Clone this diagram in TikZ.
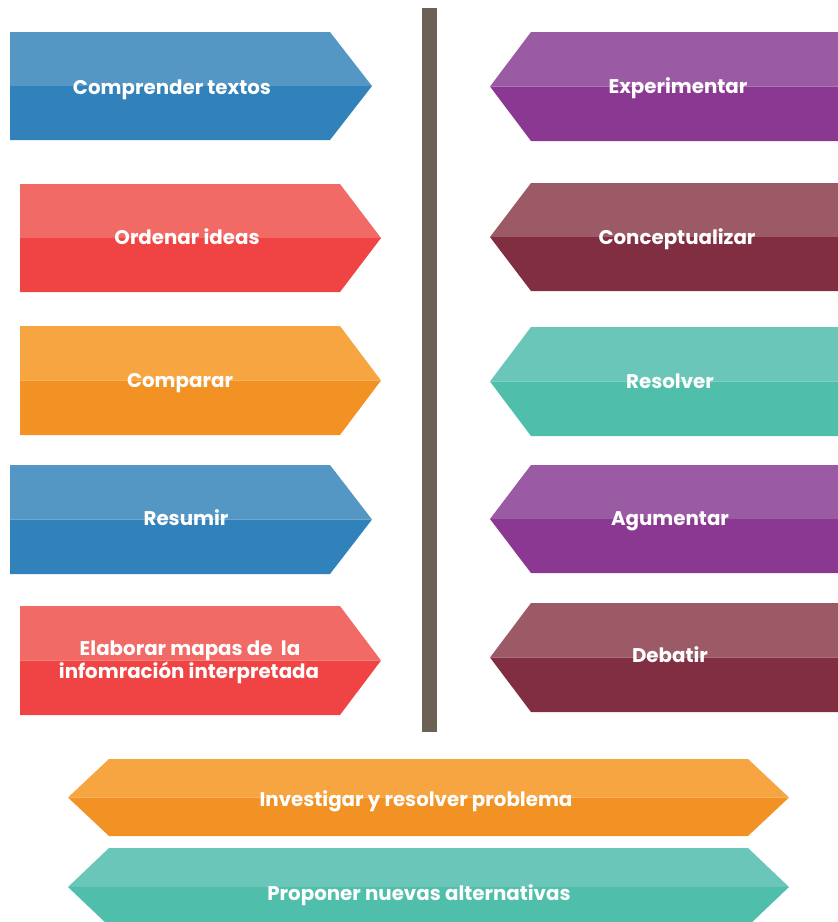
\documentclass[tikz,border=0pt]{standalone}
\usepackage{fontspec}
\setmainfont{Poppins}
\definecolor{blueL}{HTML}{5597C4}
\definecolor{blueD}{HTML}{3182BB}
\definecolor{redL}{HTML}{F26A66}
\definecolor{redD}{HTML}{F04444}
\definecolor{orangeL}{HTML}{F6A541}
\definecolor{orangeD}{HTML}{F39224}
\definecolor{purpL}{HTML}{9B5BA4}
\definecolor{purpD}{HTML}{8A3892}
\definecolor{marL}{HTML}{9C5A66}
\definecolor{marD}{HTML}{812D42}
\definecolor{tealL}{HTML}{69C6B8}
\definecolor{tealD}{HTML}{4FBFAB}
\definecolor{barC}{HTML}{6B6155}
\tikzset{lbl/.style={text=white, font=\bfseries\fontsize{19.8}{23}\selectfont, anchor=base, inner sep=0pt}}
% #1 flat x, #2 shoulder x, #3 tip x, #4 top y, #5 bottom y, #6 light, #7 dark
\newcommand\arrowbox[7]{%
  \pgfmathsetmacro\ymid{(#4+#5)/2}%
  \fill[#6] (#1,#4) -- (#2,#4) -- (#3,\ymid) -- (#1,\ymid) -- cycle;
  \fill[#7] (#1,\ymid) -- (#3,\ymid) -- (#2,#5) -- (#1,#5) -- cycle;
}
% hexagon: #1 left tip, #2 left shoulder, #3 right shoulder, #4 right tip, #5 top, #6 bottom, #7 light, #8 dark
\newcommand\hexbox[8]{%
  \pgfmathsetmacro\ymid{(#5+#6)/2}%
  \fill[#7] (#1,\ymid) -- (#2,#5) -- (#3,#5) -- (#4,\ymid) -- cycle;
  \fill[#8] (#1,\ymid) -- (#4,\ymid) -- (#3,#6) -- (#2,#6) -- cycle;
}
\begin{document}
\begin{tikzpicture}[x=1pt,y=-1pt]
\useasboundingbox (0,0) rectangle (838,922);
\clip (0,0) rectangle (838,922);
\fill[white] (0,0) rectangle (838,922);
% central bar
\fill[barC] (422,8) rectangle (437,732);
% left column
\arrowbox{10}{330}{372}{32}{140}{blueL}{blueD}
\arrowbox{20}{340}{381}{184}{292}{redL}{redD}
\arrowbox{20}{340}{381}{326}{435}{orangeL}{orangeD}
\arrowbox{10}{330}{372}{465}{574}{blueL}{blueD}
\arrowbox{20}{340}{381}{606}{715}{redL}{redD}
% right column
\arrowbox{840}{531}{490}{32}{141}{purpL}{purpD}
\arrowbox{840}{531}{490}{183}{291}{marL}{marD}
\arrowbox{840}{531}{490}{327}{436}{tealL}{tealD}
\arrowbox{840}{531}{490}{465}{573}{purpL}{purpD}
\arrowbox{840}{531}{490}{603}{712}{marL}{marD}
% bottom
\hexbox{68}{109}{748}{789}{759}{836}{orangeL}{orangeD}
\hexbox{68}{109}{748}{789}{848}{926}{tealL}{tealD}
% labels
\node[lbl] (t1) at (172,94) {Comprender textos};
\node[lbl] (t2) at (187,244) {Ordenar ideas};
\node[lbl] (t3) at (180,387) {Comparar};
\node[lbl] (t4) at (186,525) {Resumir};
\node[lbl] (t5a) at (190,655) {Elaborar mapas de~ la};
\node[lbl] (t5b) at (189,678) {infomración interpretada};
\node[lbl] (r1) at (678,93) {Experimentar};
\node[lbl] (r2) at (677,244) {Conceptualizar};
\node[lbl] (r3) at (670,388) {Resolver};
\node[lbl] (r4) at (670,525) {Agumentar};
\node[lbl] (r5) at (670,662) {Debatir};
\node[lbl] (b1) at (416,806) {Investigar y resolver problema};
\node[lbl] (b2) at (419,900) {Proponer nuevas alternativas};
\end{tikzpicture}
\end{document}
